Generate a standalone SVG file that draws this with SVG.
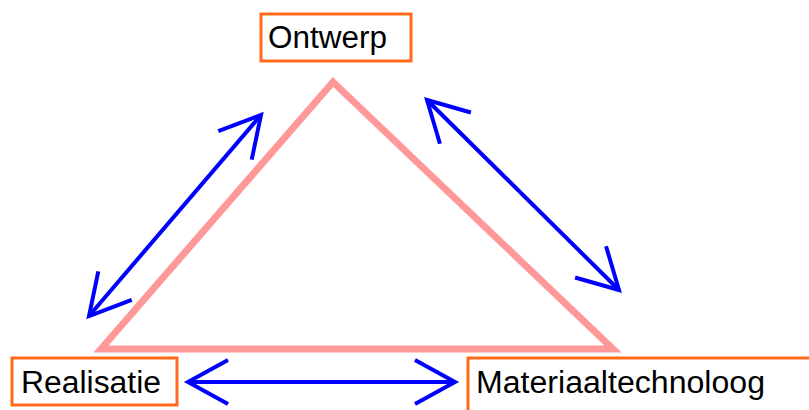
<svg xmlns="http://www.w3.org/2000/svg" width="809" height="410" viewBox="0 0 809 410">
<style>
.box{fill:#fff;stroke:#FF6A1A;stroke-width:3}
.lbl{font-family:"Liberation Sans",Arial,sans-serif;font-size:31px;fill:#000}
.arr{fill:none;stroke:#0000FF;stroke-width:4;marker-start:url(#chev);marker-end:url(#chev)}
</style>
<defs>
<marker id="chev" markerUnits="userSpaceOnUse" orient="auto-start-reverse" refX="0" refY="0" markerWidth="50" markerHeight="50" viewBox="-50 -25 50 50" overflow="visible">
<path d="M-40,-22 L0,0 L-40,22" fill="none" stroke="#0000FF" stroke-width="4" stroke-linejoin="miter"/>
</marker>
</defs>
<rect width="809" height="410" fill="#fff"/>
<polygon id="triangle" points="333,82 101,349 613,349" fill="none" stroke="#FF9999" stroke-width="7" stroke-linejoin="miter"/>
<g id="connectors">
<path class="arr" d="M261,115 L89,316"/>
<path class="arr" d="M427,100 L619,290"/>
<path class="arr" d="M188,382 L455,382"/>
</g>
<g id="ontwerp">
<rect class="box" x="261" y="14" width="150" height="47"/>
<text class="lbl" x="268" y="48" textLength="119" lengthAdjust="spacingAndGlyphs">Ontwerp</text>
</g>
<g id="realisatie">
<rect class="box" x="12" y="358" width="165" height="47"/>
<text class="lbl" x="21" y="393" textLength="140" lengthAdjust="spacingAndGlyphs">Realisatie</text>
</g>
<g id="materiaaltechnoloog">
<rect class="box" x="468" y="358" width="360" height="70"/>
<text class="lbl" x="476" y="393" textLength="289" lengthAdjust="spacingAndGlyphs">Materiaaltechnoloog</text>
</g>
</svg>
